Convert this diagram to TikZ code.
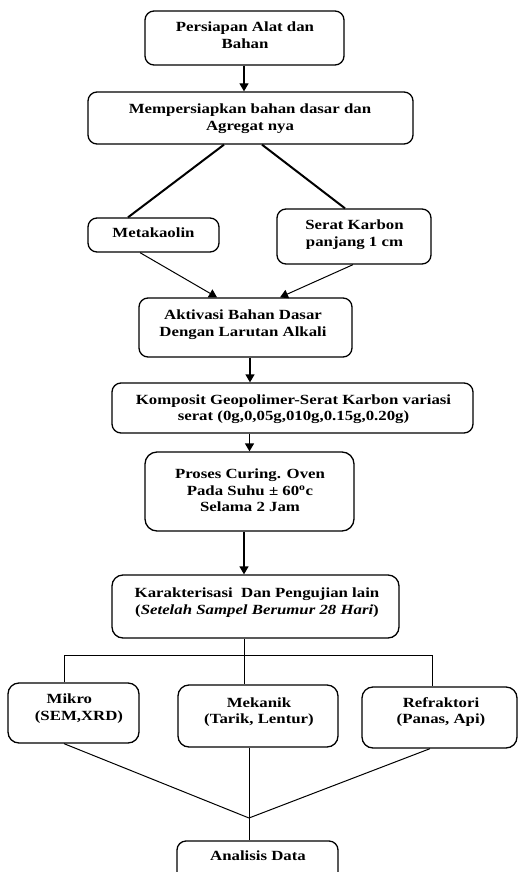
\documentclass[tikz,border=0pt]{standalone}
\usepackage{fontspec}
\setmainfont{Liberation Serif}
\usepackage{graphicx}
\usetikzlibrary{arrows.meta}
\newcommand{\bxt}[1]{\scalebox{1.2}[1]{\fontsize{14}{16.5}\selectfont\bfseries\begin{tabular}{@{}c@{}}#1\end{tabular}}}
\tikzset{
  box/.style={draw, line width=1.3pt, rounded corners=9pt, inner sep=0pt},
  txt/.style={inner sep=0pt},
  arr/.style={line width=1.3pt, -{Triangle[width=9pt,length=8pt]}},
  ln/.style={line width=1pt},
  thk/.style={line width=2pt},
  thinarr/.style={line width=1pt, -{Triangle[width=9pt,length=8pt]}}
}
\begin{document}
\begin{tikzpicture}[x=1pt,y=-1pt]
\useasboundingbox (0,0) rectangle (518,872);
\clip (0,0) rectangle (518,872);
\fill[white] (0,0) rectangle (518,872);
% boxes
\node[box, minimum width=199pt, minimum height=54pt] (n1) at (244.5,38) {};
\node[box, minimum width=325pt, minimum height=52pt] (n2) at (250.5,118) {};
\node[box, minimum width=131pt, minimum height=34pt] (n3) at (153.5,235) {};
\node[box, minimum width=154pt, minimum height=55pt] (n4) at (354,236.5) {};
\node[box, minimum width=213pt, minimum height=59pt] (n5) at (245.5,327.5) {};
\node[box, minimum width=361pt, minimum height=50pt] (n6) at (292.5,408) {};
\node[box, minimum width=209pt, minimum height=79pt, rounded corners=12pt] (n7) at (249.5,491.5) {};
\node[box, minimum width=287pt, minimum height=63pt, rounded corners=11pt] (n8) at (255.5,606.5) {};
\node[box, minimum width=131pt, minimum height=60pt, rounded corners=11pt] (n9) at (73.5,713) {};
\node[box, minimum width=160pt, minimum height=62pt, rounded corners=11pt] (n10) at (258,716) {};
\node[box, minimum width=155pt, minimum height=61pt, rounded corners=11pt] (n11) at (439.5,717.5) {};
\node[box, minimum width=161pt, minimum height=40pt] (n12) at (257.5,861) {};
% texts
\node[txt] (t1) at (245,36.5) {\bxt{Persiapan Alat dan\\Bahan}};
\node[txt] (t2) at (250,118.5) {\bxt{Mempersiapkan bahan dasar dan\\Agregat nya}};
\node[txt] (t3) at (153.5,234.5) {\bxt{Metakaolin}};
\node[txt] (t4) at (354.5,234.5) {\bxt{Serat Karbon\\panjang 1 cm}};
\node[txt] (t5) at (243,324.5) {\bxt{Aktivasi Bahan Dasar\\Dengan Larutan Alkali}};
\node[txt] (t6) at (293.5,409) {\bxt{Komposit Geopolimer-Serat Karbon variasi\\serat (0g,0,05g,010g,0.15g,0.20g)}};
\node[txt] (t7) at (250,492) {\bxt{Proses Curing. Oven\\Pada Suhu ± 60\textsuperscript{o}c\\Selama 2 Jam}};
\node[txt] (t8) at (257,602.5) {\bxt{Karakterisasi\ \ Dan Pengujian lain\\(\textit{Setelah Sampel Berumur 28 Hari})}};
\node[txt] (t9) at (79,708.5) {\bxt{Mikro\hspace*{16pt}\\(SEM,XRD)}};
\node[txt] (t10) at (259,712) {\bxt{Mekanik\\(Tarik, Lentur)}};
\node[txt] (t11) at (441,712) {\bxt{Refraktori\\(Panas, Api)}};
\node[txt] (t12) at (258,857) {\bxt{Analisis Data}};
% connectors
\draw[arr] ([xshift=-0.5pt]n1.south) -- ([xshift=-0.5pt]n1.south |- n2.north);
\draw[thk] ([xshift=-26.5pt]n2.south) -- ([xshift=-25.5pt]n3.north);
\draw[thk] ([xshift=11.5pt]n2.south) -- ([xshift=-9pt]n4.north);
\draw[thinarr] ([xshift=-13.5pt]n3.south) -- ([xshift=-28.5pt]n5.north);
\draw[thinarr] ([xshift=-1pt]n4.south) -- ([xshift=34.5pt]n5.north);
\draw[arr] ([xshift=4.5pt]n5.south) -- ([xshift=4.5pt]n5.south |- n6.north);
\draw[arr] (n7.north |- n6.south) -- (n7.north);
\draw[arr] ([xshift=-5.5pt]n7.south) -- ([xshift=-5.5pt]n7.south |- n8.north);
\coordinate (br) at (244,655);
\coordinate (m) at (249,818);
\draw[ln] ([xshift=-11.5pt]n8.south) -- (br);
\draw[ln] ([xshift=-9.5pt]n9.north) |- ([xshift=-7.5pt]n11.north |- br) -- ([xshift=-7.5pt]n11.north);
\draw[ln] (br) -- ([xshift=-14pt]n10.north);
\draw[ln] ([xshift=-9.5pt]n9.south) -- (m);
\draw[ln] ([xshift=-9pt]n10.south) -- (m);
\draw[ln] ([xshift=-9.5pt]n11.south) -- (m);
\draw[ln] (m) -- ([xshift=-8.5pt]n12.north);
\end{tikzpicture}
\end{document}
